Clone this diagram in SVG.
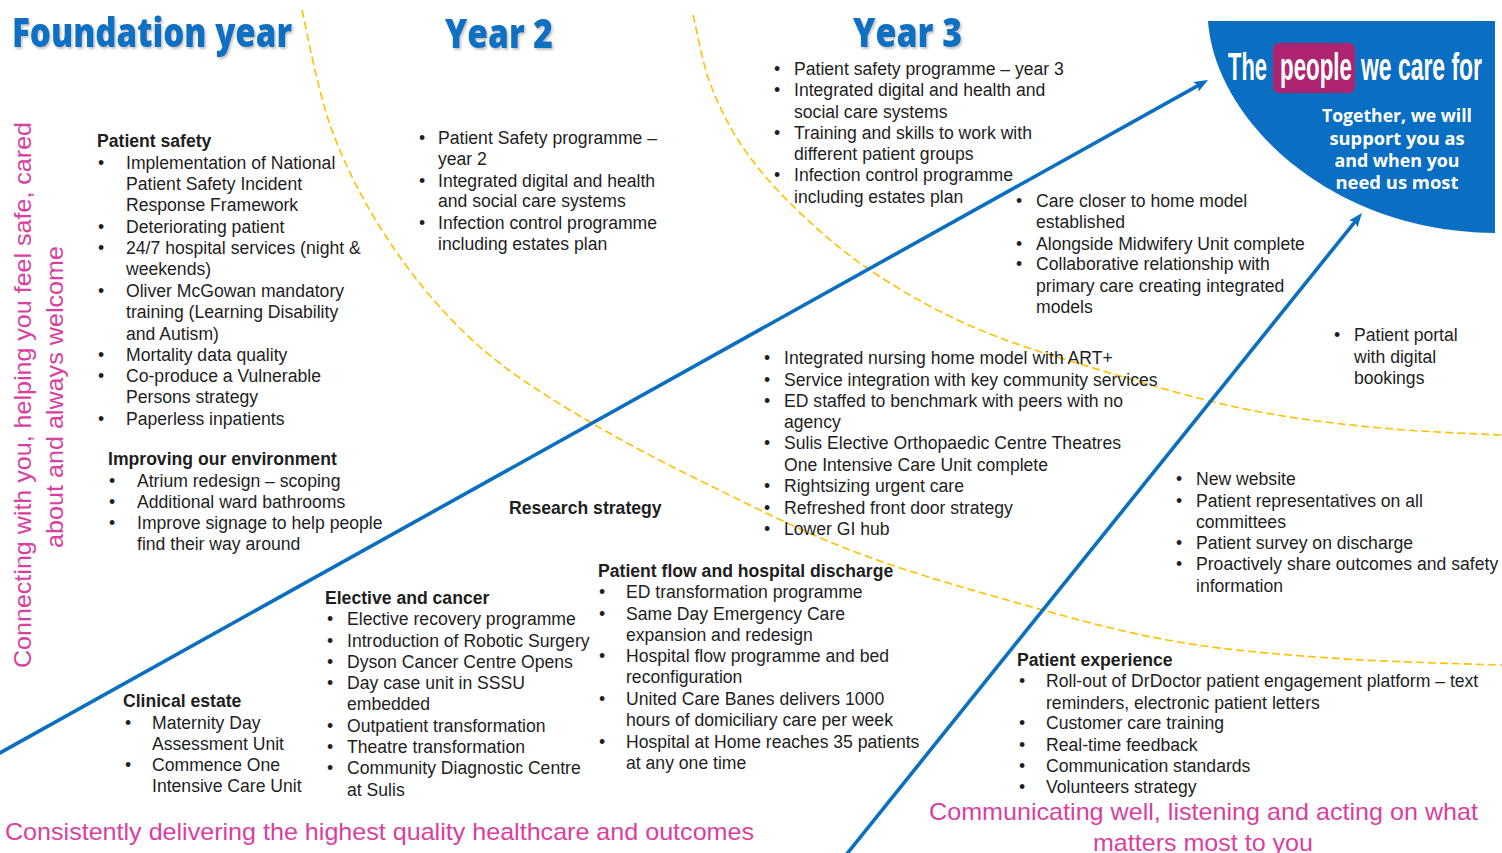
<svg xmlns="http://www.w3.org/2000/svg" width="1502" height="853" viewBox="0 0 1502 853">
  <style>
    text { font-family: "Liberation Sans", Arial, sans-serif; }
    .body { font-size: 17.6px; fill: #1e1e1e; }
    .head { font-size: 17.6px; font-weight: bold; fill: #1e1e1e; }
    .year { font-family: "Open Sans", "Liberation Sans", sans-serif; font-weight: 800; font-size: 40px; fill: #0a6fc2; }
    .pink { font-size: 24px; fill: #d93f9f; }
    .brand { font-family: "Liberation Sans", Arial, sans-serif; font-weight: bold; font-size: 22.4px; fill: #ffffff; }
    .promise { font-family: "Open Sans", "Liberation Sans", sans-serif; font-weight: bold; font-size: 18px; fill: #ffffff; text-anchor: middle; }
    .divider { fill: none; stroke: #ffc000; stroke-width: 1.6; stroke-dasharray: 8 4; }
    .arrow { fill: none; stroke: #0a6fc2; stroke-width: 3.6; marker-end: url(#head); }
  </style>
  <defs>
    <marker id="head" markerUnits="userSpaceOnUse" viewBox="0 0 14 11" markerWidth="14" markerHeight="11" refX="4" refY="5.5" orient="auto">
      <path d="M0,0 L14,5.5 L0,11 L3,5.5 z" fill="#0a6fc2"/>
    </marker>
    <filter id="shadow" x="-5%" y="-20%" width="110%" height="150%">
      <feDropShadow dx="1.5" dy="2" stdDeviation="1" flood-color="#777" flood-opacity="0.45"/>
    </filter>
  </defs>

  <rect width="1502" height="853" fill="#ffffff"/>

  <!-- year dividers and progress arrows -->
  <g id="connectors">
    <path class="divider" d="M302,10 C307,31 318,94 333,133 C348,173 368.5,211 393,247 C417.5,283 447,318 480,347 C513,376 551,399 590,422 C629,445 670,466 713,487 C756,508 802,531.5 850,550 C898,568.5 947,583 1000,598 C1053,613 1112,630 1167,640 C1222,650 1274,654 1330,658 C1386,662 1473,664 1502,665"/>
    <path class="divider" d="M693,15 C696,26 702,62 710,83 C718,104 727,123 740,143 C753,163 769,182 790,203 C811,224 836.5,247 867,268 C897.5,289 934,310 973,327 C1012,344 1055.5,356.5 1100,370 C1144.5,383.5 1195,398.5 1240,408 C1285,417.5 1326,422.5 1370,427 C1414,431.5 1480,434 1502,435"/>
    <line class="arrow" x1="-2" y1="754" x2="1199.3" y2="84.9"/>
    <line class="arrow" x1="846" y1="855" x2="1355.7" y2="220.8"/>
  </g>

  <!-- year headings -->
  <g id="title-foundation" filter="url(#shadow)">
    <text class="year" x="12" y="47" textLength="280" lengthAdjust="spacingAndGlyphs">Foundation year</text>
  </g>
  <g id="title-year2" filter="url(#shadow)">
    <text class="year" x="445" y="48" textLength="108" lengthAdjust="spacingAndGlyphs">Year 2</text>
  </g>
  <g id="title-year3" filter="url(#shadow)">
    <text class="year" x="853" y="47" textLength="109" lengthAdjust="spacingAndGlyphs">Year 3</text>
  </g>

  <!-- goal panel -->
  <g id="goal">
    <path d="M1208,21 L1495,21 L1495,233 C1330,232 1215,120 1208,21 z" fill="#0a6fc2"/>
    <rect x="1273" y="43" width="82" height="50" rx="6" fill="#ae2470"/>
    <!-- tall condensed wordmark: narrow glyphs stretched upward from the baseline -->
    <g transform="translate(0,80) scale(1,1.72) translate(0,-80)">
      <text class="brand" x="1228" y="80" textLength="39" lengthAdjust="spacingAndGlyphs">The</text>
      <text class="brand" x="1280" y="80" textLength="72" lengthAdjust="spacingAndGlyphs">people</text>
      <text class="brand" x="1361" y="80" textLength="121" lengthAdjust="spacingAndGlyphs">we care for</text>
    </g>
    <text class="promise" x="1397" y="122" textLength="150" lengthAdjust="spacingAndGlyphs">Together, we will</text>
    <text class="promise" x="1397" y="145" textLength="135" lengthAdjust="spacingAndGlyphs">support you as</text>
    <text class="promise" x="1397" y="167" textLength="125" lengthAdjust="spacingAndGlyphs">and when you</text>
    <text class="promise" x="1397" y="189" textLength="123" lengthAdjust="spacingAndGlyphs">need us most</text>
  </g>

  <!-- Foundation year: patient safety -->
  <g id="patient-safety">
    <text class="head" x="97" y="147">Patient safety</text>
    <text class="body" x="98" y="169">•</text>
    <text class="body" x="126" y="169">Implementation of National</text>
    <text class="body" x="126" y="190">Patient Safety Incident</text>
    <text class="body" x="126" y="211">Response Framework</text>
    <text class="body" x="98" y="233">•</text>
    <text class="body" x="126" y="233">Deteriorating patient</text>
    <text class="body" x="98" y="254">•</text>
    <text class="body" x="126" y="254">24/7 hospital services (night &amp;</text>
    <text class="body" x="126" y="275">weekends)</text>
    <text class="body" x="98" y="297">•</text>
    <text class="body" x="126" y="297">Oliver McGowan mandatory</text>
    <text class="body" x="126" y="318">training (Learning Disability</text>
    <text class="body" x="126" y="340">and Autism)</text>
    <text class="body" x="98" y="361">•</text>
    <text class="body" x="126" y="361">Mortality data quality</text>
    <text class="body" x="98" y="382">•</text>
    <text class="body" x="126" y="382">Co-produce a Vulnerable</text>
    <text class="body" x="126" y="403">Persons strategy</text>
    <text class="body" x="98" y="425">•</text>
    <text class="body" x="126" y="425">Paperless inpatients</text>
  </g>

  <!-- Foundation year: environment -->
  <g id="environment">
    <text class="head" x="108" y="465">Improving our environment</text>
    <text class="body" x="109" y="487">•</text>
    <text class="body" x="137" y="487">Atrium redesign – scoping</text>
    <text class="body" x="109" y="508">•</text>
    <text class="body" x="137" y="508">Additional ward bathrooms</text>
    <text class="body" x="109" y="529">•</text>
    <text class="body" x="137" y="529">Improve signage to help people</text>
    <text class="body" x="137" y="550">find their way around</text>
  </g>

  <!-- Year 2 list -->
  <g id="year2-list">
    <text class="body" x="419" y="144">•</text>
    <text class="body" x="438" y="144">Patient Safety programme –</text>
    <text class="body" x="438" y="165">year 2</text>
    <text class="body" x="419" y="187">•</text>
    <text class="body" x="438" y="187">Integrated digital and health</text>
    <text class="body" x="438" y="207">and social care systems</text>
    <text class="body" x="419" y="229">•</text>
    <text class="body" x="438" y="229">Infection control programme</text>
    <text class="body" x="438" y="250">including estates plan</text>
  </g>

  <!-- Year 3 list -->
  <g id="year3-list">
    <text class="body" x="774" y="75">•</text>
    <text class="body" x="794" y="75">Patient safety programme – year 3</text>
    <text class="body" x="774" y="96">•</text>
    <text class="body" x="794" y="96">Integrated digital and health and</text>
    <text class="body" x="794" y="118">social care systems</text>
    <text class="body" x="774" y="139">•</text>
    <text class="body" x="794" y="139">Training and skills to work with</text>
    <text class="body" x="794" y="160">different patient groups</text>
    <text class="body" x="774" y="181">•</text>
    <text class="body" x="794" y="181">Infection control programme</text>
    <text class="body" x="794" y="203">including estates plan</text>
  </g>

  <!-- Year 3 community care list -->
  <g id="community-list">
    <text class="body" x="1016" y="207">•</text>
    <text class="body" x="1036" y="207">Care closer to home model</text>
    <text class="body" x="1036" y="228">established</text>
    <text class="body" x="1016" y="250">•</text>
    <text class="body" x="1036" y="250">Alongside Midwifery Unit complete</text>
    <text class="body" x="1016" y="270">•</text>
    <text class="body" x="1036" y="270">Collaborative relationship with</text>
    <text class="body" x="1036" y="292">primary care creating integrated</text>
    <text class="body" x="1036" y="313">models</text>
  </g>

  <!-- Year 3 digital -->
  <g id="portal">
    <text class="body" x="1334" y="341">•</text>
    <text class="body" x="1354" y="341">Patient portal</text>
    <text class="body" x="1354" y="363">with digital</text>
    <text class="body" x="1354" y="384">bookings</text>
  </g>

  <!-- Year 2 integration list -->
  <g id="integration-list">
    <text class="body" x="764" y="364">•</text>
    <text class="body" x="784" y="364">Integrated nursing home model with ART+</text>
    <text class="body" x="764" y="386">•</text>
    <text class="body" x="784" y="386">Service integration with key community services</text>
    <text class="body" x="764" y="407">•</text>
    <text class="body" x="784" y="407">ED staffed to benchmark with peers with no</text>
    <text class="body" x="784" y="428">agency</text>
    <text class="body" x="764" y="449">•</text>
    <text class="body" x="784" y="449">Sulis Elective Orthopaedic Centre Theatres</text>
    <text class="body" x="784" y="471">One Intensive Care Unit complete</text>
    <text class="body" x="764" y="492">•</text>
    <text class="body" x="784" y="492">Rightsizing urgent care</text>
    <text class="body" x="764" y="514">•</text>
    <text class="body" x="784" y="514">Refreshed front door strategy</text>
    <text class="body" x="764" y="535">•</text>
    <text class="body" x="784" y="535">Lower GI hub</text>
  </g>

  <g id="research">
    <text class="head" x="509" y="514">Research strategy</text>
  </g>

  <!-- Year 2 engagement list -->
  <g id="engagement-list">
    <text class="body" x="1176" y="485">•</text>
    <text class="body" x="1196" y="485">New website</text>
    <text class="body" x="1176" y="507">•</text>
    <text class="body" x="1196" y="507">Patient representatives on all</text>
    <text class="body" x="1196" y="528">committees</text>
    <text class="body" x="1176" y="549">•</text>
    <text class="body" x="1196" y="549">Patient survey on discharge</text>
    <text class="body" x="1176" y="570">•</text>
    <text class="body" x="1196" y="570">Proactively share outcomes and safety</text>
    <text class="body" x="1196" y="592">information</text>
  </g>

  <!-- Foundation year: patient flow -->
  <g id="patient-flow">
    <text class="head" x="598" y="577">Patient flow and hospital discharge</text>
    <text class="body" x="599" y="598">•</text>
    <text class="body" x="626" y="598">ED transformation programme</text>
    <text class="body" x="599" y="620">•</text>
    <text class="body" x="626" y="620">Same Day Emergency Care</text>
    <text class="body" x="626" y="641">expansion and redesign</text>
    <text class="body" x="599" y="662">•</text>
    <text class="body" x="626" y="662">Hospital flow programme and bed</text>
    <text class="body" x="626" y="683">reconfiguration</text>
    <text class="body" x="599" y="705">•</text>
    <text class="body" x="626" y="705">United Care Banes delivers 1000</text>
    <text class="body" x="626" y="726">hours of domiciliary care per week</text>
    <text class="body" x="599" y="748">•</text>
    <text class="body" x="626" y="748">Hospital at Home reaches 35 patients</text>
    <text class="body" x="626" y="769">at any one time</text>
  </g>

  <!-- Foundation year: elective and cancer -->
  <g id="elective-cancer">
    <text class="head" x="325" y="604">Elective and cancer</text>
    <text class="body" x="327" y="625">•</text>
    <text class="body" x="347" y="625">Elective recovery programme</text>
    <text class="body" x="327" y="647">•</text>
    <text class="body" x="347" y="647">Introduction of Robotic Surgery</text>
    <text class="body" x="327" y="668">•</text>
    <text class="body" x="347" y="668">Dyson Cancer Centre Opens</text>
    <text class="body" x="327" y="689">•</text>
    <text class="body" x="347" y="689">Day case unit in SSSU</text>
    <text class="body" x="347" y="710">embedded</text>
    <text class="body" x="327" y="732">•</text>
    <text class="body" x="347" y="732">Outpatient transformation</text>
    <text class="body" x="327" y="753">•</text>
    <text class="body" x="347" y="753">Theatre transformation</text>
    <text class="body" x="327" y="774">•</text>
    <text class="body" x="347" y="774">Community Diagnostic Centre</text>
    <text class="body" x="347" y="796">at Sulis</text>
  </g>

  <!-- Foundation year: clinical estate -->
  <g id="clinical-estate">
    <text class="head" x="123" y="707">Clinical estate</text>
    <text class="body" x="125" y="729">•</text>
    <text class="body" x="152" y="729">Maternity Day</text>
    <text class="body" x="152" y="750">Assessment Unit</text>
    <text class="body" x="125" y="771">•</text>
    <text class="body" x="152" y="771">Commence One</text>
    <text class="body" x="152" y="792">Intensive Care Unit</text>
  </g>

  <!-- Foundation year: patient experience -->
  <g id="patient-experience">
    <text class="head" x="1017" y="666">Patient experience</text>
    <text class="body" x="1019" y="687">•</text>
    <text class="body" x="1046" y="687">Roll-out of DrDoctor patient engagement platform – text</text>
    <text class="body" x="1046" y="709">reminders, electronic patient letters</text>
    <text class="body" x="1019" y="729">•</text>
    <text class="body" x="1046" y="729">Customer care training</text>
    <text class="body" x="1019" y="751">•</text>
    <text class="body" x="1046" y="751">Real-time feedback</text>
    <text class="body" x="1019" y="772">•</text>
    <text class="body" x="1046" y="772">Communication standards</text>
    <text class="body" x="1019" y="793">•</text>
    <text class="body" x="1046" y="793">Volunteers strategy</text>
  </g>

  <!-- values along the edges -->
  <g id="value-welcome">
    <text class="pink" transform="translate(31,395) rotate(-90)" text-anchor="middle" textLength="546" lengthAdjust="spacingAndGlyphs">Connecting with you, helping you feel safe, cared</text>
    <text class="pink" transform="translate(63,397) rotate(-90)" text-anchor="middle" textLength="302" lengthAdjust="spacingAndGlyphs">about and always welcome</text>
  </g>
  <g id="value-quality">
    <text class="pink" x="5" y="840" textLength="749" lengthAdjust="spacingAndGlyphs">Consistently delivering the highest quality healthcare and outcomes</text>
  </g>
  <g id="value-listening">
    <text class="pink" x="929" y="820" textLength="549" lengthAdjust="spacingAndGlyphs">Communicating well, listening and acting on what</text>
    <text class="pink" x="1093" y="851" textLength="220" lengthAdjust="spacingAndGlyphs">matters most to you</text>
  </g>
</svg>
